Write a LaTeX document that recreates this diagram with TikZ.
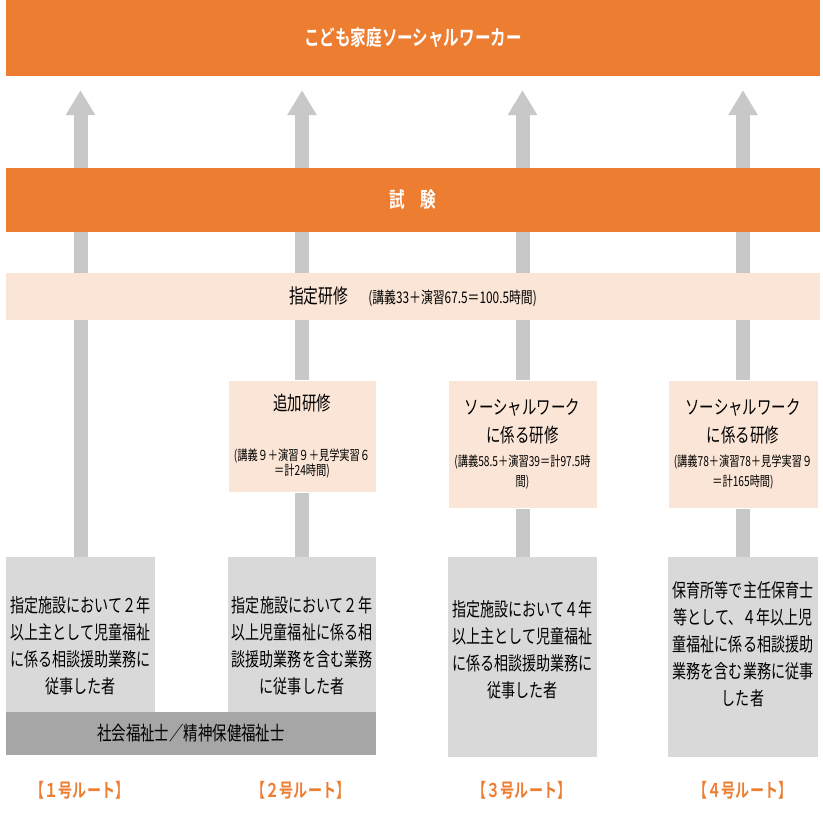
\documentclass[tikz,border=0pt]{standalone}
\usepackage{fontspec}
\setmainfont{Noto Sans CJK JP}[FakeStretch=0.74, BoldFont={* Bold}]
\usepackage{xcolor}
\usetikzlibrary{arrows.meta, backgrounds, calc}

\definecolor{swOrange}{HTML}{ED7D31}
\definecolor{swPeach}{HTML}{FBE5D6}
\definecolor{swGray}{HTML}{D9D9D9}
\definecolor{swDark}{HTML}{A6A6A6}
\definecolor{swArrow}{HTML}{C8C8C8}

\newcommand{\boxsmall}{\fontsize{13.8}{17}\selectfont}

\begin{document}
\begin{tikzpicture}[
    x=1pt, y=-1pt,
    orangebar/.style={fill=swOrange, text=white, font=\bfseries\fontsize{21}{24}\selectfont,
        minimum width=814pt, inner sep=0pt},
    peachbar/.style={fill=swPeach, minimum width=814pt, minimum height=47pt, inner sep=0pt},
    coursebox/.style={fill=swPeach, draw=white, line width=1pt, align=center, inner sep=0pt,
        font=\fontsize{19.5}{28}\selectfont},
    grayblock/.style={fill=swGray, inner sep=0pt},
    blocktext/.style={align=center, inner sep=0pt, font=\fontsize{19}{27}\selectfont},
    darkbar/.style={fill=swDark, inner sep=0pt, font=\fontsize{19.5}{24}\selectfont},
    routelab/.style={text=swOrange, font=\bfseries\fontsize{19}{22}\selectfont},
    uparrow/.style={draw=swArrow, line width=14pt, -{Triangle[width=28pt,length=25pt]}},
]
\useasboundingbox (0,0) rectangle (823,823);

% -------------------------------------------------
% Top bars
% -------------------------------------------------
\node[orangebar, minimum height=76pt] (swk)  at (413,38)  {こども家庭ソーシャルワーカー};
\node[orangebar, minimum height=64pt] (exam) at (413,200) {試　験};
\node[peachbar] (shitei) at (413,296.5)
    {\fontsize{20}{24}\selectfont 指定研修\hspace{20pt}{\fontsize{16}{18}\selectfont (講義33＋演習67.5＝100.5時間)}};

% -------------------------------------------------
% Course boxes (routes 2--4)
% -------------------------------------------------
\node[coursebox, minimum width=148pt, minimum height=112pt] (add2) at (302,436)
    {追加研修\\[22pt]{\boxsmall (講義９＋演習９＋見学実習６}\\[-13pt]{\boxsmall ＝計24時間)}};
\node[coursebox, minimum width=149pt, minimum height=128pt] (sw3) at (522.5,444)
    {ソーシャルワーク\\に係る研修\\[-4pt]{\boxsmall (講義58.5＋演習39＝計97.5時}\\[-8pt]{\boxsmall 間)}};
\node[coursebox, minimum width=150pt, minimum height=128pt] (sw4) at (743,444)
    {ソーシャルワーク\\に係る研修\\[-4pt]{\boxsmall (講義78＋演習78＋見学実習９}\\[-8pt]{\boxsmall ＝計165時間)}};

% -------------------------------------------------
% Starting conditions
% -------------------------------------------------
\node[grayblock, minimum width=149pt, minimum height=155pt] (b1) at (80.5,634.5) {};
\node[grayblock, minimum width=148pt, minimum height=155pt] (b2) at (302,634.5) {};
\node[darkbar, minimum width=370pt, minimum height=43pt] (sfs) at (191,733.5)
    {社会福祉士／精神保健福祉士};
\node[grayblock, minimum width=149pt, minimum height=200pt] (b3) at (522.5,657) {};
\node[grayblock, minimum width=150pt, minimum height=200pt] (b4) at (743,657) {};

\node[blocktext] (b1txt) at ([yshift=-11pt]b1.center)
    {指定施設において２年\\以上主として児童福祉\\に係る相談援助業務に\\従事した者};
\node[blocktext] (b2txt) at ([yshift=-11pt]b2.center)
    {指定施設において２年\\以上児童福祉に係る相\\談援助業務を含む業務\\に従事した者};
\node[blocktext] (b3txt) at ([yshift=7pt]b3.center)
    {指定施設において４年\\以上主として児童福祉\\に係る相談援助業務に\\従事した者};
\node[blocktext] (b4txt) at ([yshift=13pt]b4.center)
    {保育所等で主任保育士\\等として、４年以上児\\童福祉に係る相談援助\\業務を含む業務に従事\\した者};

% route labels
\node[routelab] (r1) at (80,790)  {【１号ルート】};
\node[routelab] (r2) at (301,790) {【２号ルート】};
\node[routelab] (r3) at (522,790) {【３号ルート】};
\node[routelab] (r4) at (743,790) {【４号ルート】};

% -------------------------------------------------
% Arrows (behind everything)
% -------------------------------------------------
\foreach \b in {b1,b2,b3,b4}
    \coordinate (t-\b) at ([yshift=-14pt]\b.north |- swk.south);
\begin{scope}[on background layer]
\foreach \b in {b1,b2,b3,b4}
    \draw[uparrow] (\b.north) -- (t-\b);
\end{scope}

\end{tikzpicture}
\end{document}
